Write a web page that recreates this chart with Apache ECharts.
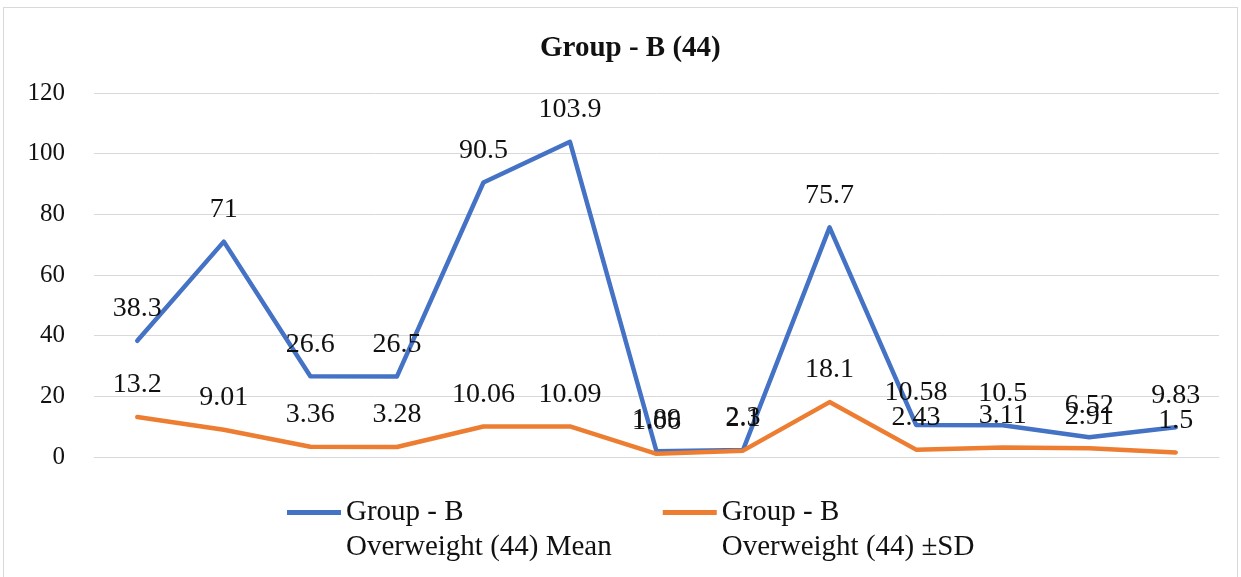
<!DOCTYPE html>
<html>
<head>
<meta charset="utf-8">
<script src="https://cdn.jsdelivr.net/npm/echarts@6/dist/echarts.min.js"></script>
<style>
  html, body { margin: 0; padding: 0; background: #fff; }
  #frame { position: absolute; left: 3px; top: 7px; width: 1235px; height: 580px; border: 1px solid #d9d9d9; box-sizing: border-box; }
  #chart { position: absolute; left: 0; top: 0; width: 1241px; height: 577px; }
</style>
</head>
<body>
<div id="frame"></div>
<div id="chart"></div>
<script>
// Thirteen measurements for the overweight group
const categories = ['1', '2', '3', '4', '5', '6', '7', '8', '9', '10', '11', '12', '13'];
const meanValues = [38.3, 71, 26.6, 26.5, 90.5, 103.9, 1.89, 2.3, 75.7, 10.58, 10.5, 6.52, 9.83];
const sdValues = [13.2, 9.01, 3.36, 3.28, 10.06, 10.09, 1.06, 2.1, 18.1, 2.43, 3.11, 2.91, 1.5];
const seriesNames = ['Group - B\nOverweight (44) Mean', 'Group - B\nOverweight (44) ±SD'];

const serif = '"Liberation Serif", "Times New Roman", serif';
const chart = echarts.init(document.getElementById('chart'), null, { renderer: 'canvas' });

// Legend swatch: a short bar at the top of a taller box, so it sits beside the first text line
const legendIcon = 'path://M0,0H54V5H0Z M0,40L0.01,40';

const labelStyle = {
  show: true,
  position: 'top',
  distance: 18,
  fontFamily: serif,
  fontSize: 28,
  color: '#111'
};

chart.setOption({
  animation: false,
  title: {
    text: 'Group - B (44)',
    left: 535,
    top: 29,
    textStyle: { fontFamily: serif, fontSize: 29, fontWeight: 'bold', color: '#111' }
  },
  legend: {
    top: 495,
    left: 287,
    padding: 0,
    itemGap: 51,
    itemWidth: 54,
    itemHeight: 40,
    icon: legendIcon,
    textStyle: {
      fontFamily: serif,
      fontSize: 29,
      color: '#111',
      lineHeight: 35
    },
    data: seriesNames
  },
  grid: { left: 94, right: 22, top: 93, bottom: 120 },
  xAxis: {
    type: 'category',
    data: categories,
    boundaryGap: true,
    axisLine: { show: true, lineStyle: { color: '#d9d9d9', width: 1 } },
    axisTick: { show: false },
    axisLabel: { show: false }
  },
  yAxis: {
    type: 'value',
    min: 0,
    max: 120,
    interval: 20,
    axisLine: { show: false },
    axisTick: { show: false },
    axisLabel: { fontFamily: serif, fontSize: 25, color: '#111', margin: 29 },
    splitLine: { lineStyle: { color: '#d9d9d9', width: 1 } }
  },
  series: [
    {
      name: seriesNames[0],
      type: 'line',
      data: meanValues,
      symbol: 'circle',
      symbolSize: 0,
      showSymbol: true,
      lineStyle: { color: '#4472C4', width: 4.5, cap: 'round', join: 'round' },
      itemStyle: { color: '#4472C4' },
      label: labelStyle
    },
    {
      name: seriesNames[1],
      type: 'line',
      data: sdValues,
      symbol: 'circle',
      symbolSize: 0,
      showSymbol: true,
      lineStyle: { color: '#ED7D31', width: 4.5, cap: 'round', join: 'round' },
      itemStyle: { color: '#ED7D31' },
      label: labelStyle
    }
  ]
});
</script>
</body>
</html>
